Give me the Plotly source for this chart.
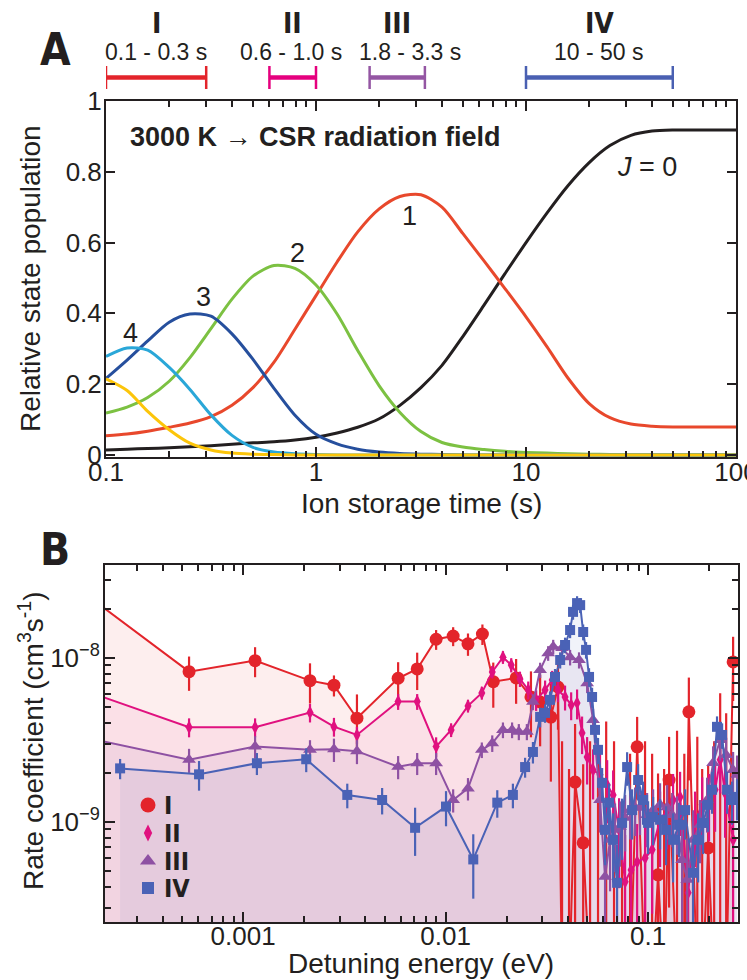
import math
import plotly.graph_objects as go

# ---------------------------------------------------------------------------
# Panel A: relative rotational state populations versus ion storage time
# (sampled every tenth of a decade)
# ---------------------------------------------------------------------------
storage_time_s = [0.1, 0.126, 0.158, 0.2, 0.251, 0.316, 0.398, 0.501, 0.631, 0.794,
                  1.0, 1.26, 1.58, 2.0, 2.51, 3.16, 3.98, 5.01, 6.31, 7.94,
                  10, 12.6, 15.8, 20, 25.1, 31.6, 39.8, 50.1, 63.1, 79.4, 100]
pop_J0 = [0.014, 0.016, 0.018, 0.020, 0.023, 0.026, 0.030, 0.034, 0.037, 0.042,
          0.050, 0.062, 0.078, 0.102, 0.140, 0.190, 0.253, 0.335, 0.423, 0.512,
          0.600, 0.684, 0.760, 0.826, 0.874, 0.903, 0.915, 0.918, 0.918, 0.918, 0.918]
pop_J1 = [0.054, 0.059, 0.067, 0.078, 0.090, 0.108, 0.140, 0.190, 0.262, 0.355,
          0.450, 0.545, 0.630, 0.695, 0.730, 0.735, 0.700, 0.625, 0.548, 0.470,
          0.390, 0.305, 0.218, 0.145, 0.105, 0.087, 0.081, 0.079, 0.079, 0.079, 0.079]
pop_J2 = [0.118, 0.135, 0.162, 0.208, 0.275, 0.357, 0.440, 0.505, 0.535, 0.527,
          0.480, 0.398, 0.295, 0.195, 0.120, 0.066, 0.035, 0.022, 0.015, 0.010,
          0.007, 0.005, 0.003, 0.002, 0.001, 0.0, 0.0, 0.0, 0.0, 0.0, 0.0]
pop_J3 = [0.216, 0.268, 0.322, 0.375, 0.398, 0.392, 0.342, 0.270, 0.188, 0.112,
          0.058, 0.031, 0.016, 0.008, 0.004, 0.002, 0.001, 0.0, 0.0, 0.0,
          0.0, 0.0, 0.0, 0.0, 0.0, 0.0, 0.0, 0.0, 0.0, 0.0, 0.0]
pop_J4 = [0.278, 0.302, 0.296, 0.247, 0.185, 0.113, 0.055, 0.021, 0.008, 0.003,
          0.001, 0.0, 0.0, 0.0, 0.0, 0.0, 0.0, 0.0, 0.0, 0.0,
          0.0, 0.0, 0.0, 0.0, 0.0, 0.0, 0.0, 0.0, 0.0, 0.0, 0.0]
pop_J5 = [0.215, 0.182, 0.123, 0.071, 0.033, 0.014, 0.005, 0.002, 0.001, 0.0,
          0.0, 0.0, 0.0, 0.0, 0.0, 0.0, 0.0, 0.0, 0.0, 0.0,
          0.0, 0.0, 0.0, 0.0, 0.0, 0.0, 0.0, 0.0, 0.0, 0.0, 0.0]
population_curves = [pop_J0, pop_J1, pop_J2, pop_J3, pop_J4, pop_J5]
population_colors = ["#231f20", "#e8482c", "#7cc142", "#264f9d", "#2aa7d8", "#fcc50a"]

# storage-time windows used for the rate measurements
window_labels = ["I", "II", "III", "IV"]
window_text = ["0.1 - 0.3 s", "0.6 - 1.0 s", "1.8 - 3.3 s", "10 - 50 s"]
window_text_shift = [0, -2, 13, 0]
window_start_s = [0.1, 0.6, 1.8, 10]
window_end_s = [0.3, 1.0, 3.3, 50]
window_colors = ["#e3242b", "#e5007e", "#9456a3", "#4a60b2"]

# ---------------------------------------------------------------------------
# Panel B: rate coefficients (in units of 1e-9 cm^3 s^-1) vs detuning energy
# ---------------------------------------------------------------------------
RATE_UNIT = 1e-9

energy_I = [1.9e-4, 5.41e-4, 1.146e-3, 2.14e-3, 2.81e-3, 3.65e-3, 5.83e-3, 7.24e-3,
            8.98e-3, 1.09e-2, 1.29e-2, 1.52e-2, 1.72e-2, 2.23e-2, 2.64e-2, 2.93e-2,
            3.31e-2, 3.59e-2, 3.76e-2, 4.07e-2, 4.36e-2, 4.78e-2, 5.17e-2, 5.66e-2,
            6.21e-2, 6.79e-2, 7.44e-2, 8.15e-2, 8.83e-2, 9.66e-2, 0.1047, 0.112, 0.120,
            0.127, 0.139, 0.151, 0.159, 0.175, 0.185, 0.198, 0.212, 0.227, 0.243, 0.263]
rate_I = [21.7, 8.25, 9.63, 7.27, 6.82, 4.29, 7.52, 8.57, 13.0, 13.6, 12.2, 14.0, 7.17,
          7.55, 5.78, 5.39, 4.36, 6.65, 0.1, 0.1, 1.75, 0.745, 0.1, 0.1, 0.1, 0.1, 0.1,
          0.1, 2.87, 0.1, 0.1, 0.475, 0.1, 1.80, 0.1, 0.1, 4.69, 0.1, 0.1, 0.694, 0.1,
          0.1, 0.1, 9.46]
err_I = [0, 1.95, 2.0, 2.0, 1.0, 1.7, 1.9, 2.2, 1.8, 1.8, 1.9, 2.0, 2.2, 2.3, 2.5, 2.5,
         2.6, 3.0, 3.0, 2.0, 2.2, 1.5, 3.0, 2.5, 4.0, 3.0, 1.2, 2.5, 1.5, 3.0, 2.5, 1.5,
         2.0, 1.5, 3.5, 2.5, 2.9, 3.2, 2.0, 1.5, 3.0, 6.0, 4.5, 4.0]

energy_II = [1.9e-4, 5.41e-4, 1.146e-3, 2.14e-3, 2.81e-3, 3.65e-3, 5.83e-3, 7.24e-3,
             8.98e-3, 1.065e-2, 1.29e-2, 1.51e-2, 1.70e-2, 1.92e-2, 2.11e-2, 2.33e-2,
             2.56e-2, 2.80e-2, 3.10e-2, 3.36e-2, 3.59e-2, 3.89e-2, 4.17e-2, 4.46e-2,
             4.72e-2, 5.00e-2, 5.35e-2, 5.79e-2, 6.28e-2, 6.72e-2, 7.19e-2, 7.70e-2,
             8.24e-2, 8.83e-2, 9.67e-2, 0.1047, 0.1146, 0.1241, 0.1329, 0.1439, 0.1577,
             0.1706, 0.185, 0.200, 0.2143, 0.227, 0.240, 0.263]
rate_II = [5.95, 3.78, 3.78, 4.64, 3.81, 3.39, 5.42, 5.42, 2.88, 3.64, 5.10, 6.12, 8.22,
           10.1, 9.06, 7.45, 6.38, 5.55, 6.38, 7.34, 6.38, 5.78, 5.17, 5.32, 3.49, 2.49,
           2.07, 1.94, 1.68, 1.46, 0.894, 0.431, 0.509, 0.570, 0.603, 0.675, 1.03, 1.18,
           1.36, 1.42, 0.369, 1.03, 1.27, 1.36, 1.57, 2.39, 1.50, 0.777]
err_II = [0, 0.5, 0.5, 0.6, 0.5, 0.4, 0.6, 0.6, 0.4, 0.35, 0.45, 0.55, 0.7, 0.9, 0.9,
          0.8, 0.8, 0.8, 0.9, 1.0, 1.0, 1.0, 1.0, 1.1, 0.9, 0.8, 0.7, 0.7, 0.7, 0.6, 0.5,
          0.4, 0.4, 0.4, 0.4, 0.4, 0.5, 0.5, 0.6, 0.6, 0.4, 0.5, 0.6, 0.6, 0.7, 0.9, 0.7,
          0.6]

energy_III = [1.9e-4, 5.41e-4, 1.146e-3, 2.14e-3, 2.81e-3, 3.65e-3, 5.83e-3, 7.24e-3,
              8.98e-3, 1.09e-2, 1.29e-2, 1.51e-2, 1.70e-2, 1.92e-2, 2.13e-2, 2.30e-2,
              2.52e-2, 2.70e-2, 2.93e-2, 3.21e-2, 3.40e-2, 3.76e-2, 4.12e-2, 4.56e-2,
              5.00e-2, 5.35e-2, 5.79e-2, 6.13e-2, 6.49e-2, 6.87e-2, 7.27e-2, 7.70e-2,
              8.15e-2, 8.63e-2, 9.13e-2, 9.89e-2, 0.1059, 0.1146, 0.1241, 0.1315, 0.139,
              0.1472, 0.156, 0.1667, 0.1807, 0.1956, 0.2094, 0.227, 0.243, 0.263, 0.275]
rate_III = [3.16, 2.39, 2.88, 2.75, 2.77, 2.70, 2.17, 2.28, 2.28, 1.36, 1.60, 2.75, 3.02,
            3.64, 3.64, 3.55, 3.55, 5.4, 8.45, 10.7, 11.7, 11.5, 10.1, 9.72, 7.0, 4.19,
            1.36, 0.462, 0.777, 0.894, 0.933, 1.06, 1.18, 1.22, 1.23, 1.10, 1.18, 1.27,
            1.23, 1.10, 1.03, 0.586, 0.443, 0.777, 0.959, 1.36, 2.29, 3.16, 2.56, 2.07,
            1.94]
err_III = [0, 0.4, 0.45, 0.4, 0.45, 0.45, 0.35, 0.35, 0.35, 0.22, 0.25, 0.3, 0.35, 0.4,
           0.4, 0.4, 0.4, 0.6, 0.9, 1.1, 1.2, 1.2, 1.1, 1.1, 0.9, 0.7, 0.5, 0.4, 0.4,
           0.4, 0.4, 0.4, 0.4, 0.4, 0.4, 0.4, 0.4, 0.45, 0.45, 0.4, 0.4, 0.35, 0.35, 0.4,
           0.4, 0.5, 0.6, 0.8, 0.7, 0.6, 0.6]

energy_IV = [2.47e-4, 6.06e-4, 1.17e-3, 2.05e-3, 3.27e-3, 4.86e-3, 7.07e-3, 1.005e-2,
             1.37e-2, 1.80e-2, 2.15e-2, 2.47e-2, 2.70e-2, 2.93e-2, 3.10e-2, 3.28e-2,
             3.47e-2, 3.68e-2, 3.89e-2, 4.12e-2, 4.26e-2, 4.46e-2, 4.62e-2, 4.78e-2,
             4.94e-2, 5.11e-2, 5.29e-2, 5.47e-2, 5.66e-2, 5.93e-2, 6.13e-2, 6.42e-2,
             6.72e-2, 7.03e-2, 7.44e-2, 7.88e-2, 8.34e-2, 8.93e-2, 9.45e-2, 0.100,
             0.1059, 0.1146, 0.1227, 0.1329, 0.1422, 0.1523, 0.1667, 0.1766, 0.187,
             0.198, 0.207, 0.219, 0.232, 0.2455, 0.260, 0.275]
rate_IV = [2.12, 1.95, 2.28, 2.41, 1.46, 1.36, 0.92, 1.24, 0.59, 1.31, 1.46, 2.16, 2.67,
           4.37, 4.62, 5.55, 7.66, 9.72, 12.0, 14.8, 19.1, 21.6, 21.0, 14.4, 11.2, 7.66,
           5.78, 3.64, 2.75, 1.73, 0.894, 1.31, 0.777, 0.425, 0.986, 2.16, 1.18, 1.80,
           1.36, 0.986, 1.07, 1.03, 0.894, 0.777, 0.959, 1.18, 0.489, 0.777, 0.986, 1.27,
           1.57, 3.80, 3.39, 1.57, 1.36, 1.42]
err_IV = [0.3, 0.4, 0.35, 0.4, 0.25, 0.25, 0.3, 0.3, 0.25, 0.25, 0.25, 0.3, 0.4, 0.6,
          0.6, 0.7, 0.9, 1.1, 1.3, 1.6, 2.0, 2.2, 2.2, 1.6, 1.3, 1.0, 0.8, 0.6, 0.5, 0.4,
          0.35, 0.4, 0.35, 0.3, 0.4, 0.5, 0.4, 0.45, 0.4, 0.35, 0.35, 0.35, 0.35, 0.35,
          0.35, 0.4, 0.3, 0.35, 0.35, 0.4, 0.45, 0.6, 0.6, 0.45, 0.4, 0.4]

series_energy = [energy_I, energy_II, energy_III, energy_IV]
series_rate = [rate_I, rate_II, rate_III, rate_IV]
series_err = [err_I, err_II, err_III, err_IV]
series_colors = ["#e3242b", "#e0117f", "#8e51a3", "#4a62b6"]
series_fill = ["rgba(228,40,40,0.08)", "rgba(224,0,120,0.06)",
               "rgba(142,80,163,0.08)", "rgba(74,98,182,0.08)"]
series_symbols = ["circle", "diamond-tall", "triangle-up", "square"]
series_sizes = [13, 10, 12, 10]

# ---------------------------------------------------------------------------
W, H = 747, 980
FONT = "Liberation Sans, Arial, Helvetica, sans-serif"
NARROW_BOLD = "Liberation Sans Narrow, Arial Narrow, DejaVu Sans Condensed, Liberation Sans, sans-serif"
INK = "#231f20"

# plot-area boxes in pixels (left, top, right, bottom)
A_BOX = (106, 101, 736, 457)
B_BOX = (105, 565, 738, 922)


def xdom(box):
    return [box[0] / W, box[2] / W]


def ydom(box):
    return [1 - box[3] / H, 1 - box[1] / H]


def px(x):
    return x / W


def py(y):
    return 1 - y / H


def label(x, y, text, size, family=FONT, **kw):
    d = dict(x=px(x), y=py(y), xref="paper", yref="paper", text=text,
             showarrow=False, xanchor="center", yanchor="middle",
             font=dict(family=family, size=size, color=INK))
    d.update(kw)
    return d


fig = go.Figure()

# --- Panel A curves
for pop, col in zip(population_curves, population_colors):
    fig.add_trace(go.Scatter(
        x=storage_time_s, y=pop, mode="lines", xaxis="x", yaxis="y",
        line=dict(color=col, width=3, shape="spline", smoothing=0.8),
        hoverinfo="skip"))

# --- time-window bars above panel A (x3 shares panel A's log time scale)
for t0, t1, col in zip(window_start_s, window_end_s, window_colors):
    fig.add_trace(go.Scatter(
        x=[t0, t1], y=[77.5, 77.5], mode="lines", xaxis="x3", yaxis="y3",
        line=dict(color=col, width=4.5), hoverinfo="skip"))
    fig.add_trace(go.Scatter(
        x=[t0, t0, None, t1, t1], y=[66, 89, None, 66, 89], mode="lines",
        xaxis="x3", yaxis="y3", line=dict(color=col, width=2.5), hoverinfo="skip"))

# --- Panel B shaded areas beneath each series
for e, r, fc in zip(series_energy, series_rate, series_fill):
    fig.add_trace(go.Scatter(
        x=e, y=[v * RATE_UNIT for v in r], mode="none", fill="tozeroy",
        fillcolor=fc, xaxis="x2", yaxis="y2", hoverinfo="skip"))

# --- Panel B data with error bars
for e, r, s, col, sym, size in zip(series_energy, series_rate, series_err,
                                    series_colors, series_symbols, series_sizes):
    fig.add_trace(go.Scatter(
        x=e, y=[v * RATE_UNIT for v in r], mode="lines+markers",
        xaxis="x2", yaxis="y2",
        line=dict(color=col, width=2),
        marker=dict(symbol=sym, size=size, color=col, line=dict(width=0)),
        error_y=dict(type="data", array=[v * RATE_UNIT for v in s], symmetric=True,
                     color=col, thickness=2.2, width=0),
        hoverinfo="skip"))

# --- Panel B key (x4/y4 overlay the panel in pixel-like units)
legend_x = 148
legend_rows = [805, 833, 861, 888]
for row, col, sym, size in zip(legend_rows, series_colors, series_symbols, series_sizes):
    fig.add_trace(go.Scatter(
        x=[legend_x], y=[row], mode="markers", xaxis="x4", yaxis="y4",
        marker=dict(symbol=sym, size=size + 2, color=col, line=dict(width=0)),
        hoverinfo="skip"))

annotations = []

# panel letters
annotations.append(label(55, 50, "<b>A</b>", 44, NARROW_BOLD))
annotations.append(label(55, 549, "<b>B</b>", 44, NARROW_BOLD))

# window labels
for lab, txt, shift, t0, t1 in zip(window_labels, window_text, window_text_shift,
                                   window_start_s, window_end_s):
    xm = (math.log10(t0) + math.log10(t1)) / 2
    annotations.append(dict(x=xm, y=23, xref="x3", yref="y3", text="<b>%s</b>" % lab,
                            showarrow=False, xanchor="center", yanchor="middle",
                            font=dict(family=NARROW_BOLD, size=28, color=INK)))
    annotations.append(dict(x=xm, y=52, xref="x3", yref="y3", text=txt, showarrow=False,
                            xanchor="center", yanchor="middle", xshift=shift,
                            font=dict(family=FONT, size=23, color=INK)))

# panel A text
annotations.append(label(128, 137, "<b>3000 K \u2192 CSR radiation field</b>", 27,
                         xanchor="left"))
for lab, (cx, cy) in zip(["4", "3", "2", "1", "<i>J</i> = 0"],
                         [(130, 333), (203, 297), (297, 253), (409, 216), (647, 167)]):
    annotations.append(label(cx, cy, lab, 27))

# axis titles
annotations.append(label(30, 279, "Relative state population", 28, textangle=-90))
annotations.append(label(421, 503, "Ion storage time (s)", 28))
annotations.append(label(31, 741, "Rate coefficient (cm<sup>3</sup>s<sup>-1</sup>)", 28,
                         textangle=-90))
annotations.append(label(421, 963, "Detuning energy (eV)", 28))

# key labels
for lab, row in zip(window_labels, legend_rows):
    annotations.append(dict(x=162, y=row, xref="x4", yref="y4", xanchor="left",
                            yanchor="middle", text="<b>%s</b>" % lab, showarrow=False,
                            font=dict(family=NARROW_BOLD, size=25, color=INK)))

# minor tick positions (digits 2..9 within each decade)
minor_A = [m * 10.0 ** d for d in range(-1, 2) for m in range(2, 10)]
minor_Bx = [m * 10.0 ** d for d in range(-4, 0) for m in range(2, 10)]
minor_By = [m * 10.0 ** d for d in range(-10, -7) for m in range(2, 10)]

axis_common = dict(showline=True, linecolor=INK, linewidth=2, mirror="ticks",
                   ticks="inside", tickcolor=INK, tickwidth=2, showgrid=False,
                   zeroline=False, automargin=False, ticklabeloverflow="allow",
                   tickfont=dict(family=FONT, size=26, color=INK))
hidden = dict(visible=False, automargin=False, fixedrange=True, showgrid=False,
              zeroline=False)

fig.update_layout(
    width=W, height=H, margin=dict(l=0, r=0, t=0, b=0, pad=0, autoexpand=False),
    paper_bgcolor="white", plot_bgcolor="white", showlegend=False,
    font=dict(family=FONT, color=INK),
    xaxis=dict(domain=xdom(A_BOX), anchor="y", type="log", range=[-1, 2],
               tickvals=[0.1, 1, 10, 100], ticktext=["0.1", "1", "10", "100"],
               ticklen=10, ticklabelstandoff=-9,
               minor=dict(tickvals=minor_A, ticks="inside", ticklen=6, tickwidth=1.5,
                          tickcolor=INK),
               **axis_common),
    yaxis=dict(domain=ydom(A_BOX), anchor="x", range=[-0.006, 1.0], tick0=0, dtick=0.2,
               ticklen=9, ticklabelstandoff=-3, **axis_common),
    xaxis2=dict(domain=xdom(B_BOX), anchor="y2", type="log",
                range=[math.log10(2.08e-4), math.log10(0.278)],
                tickvals=[0.001, 0.01, 0.1], ticktext=["0.001", "0.01", "0.1"],
                ticklen=10, ticklabelstandoff=-10,
                minor=dict(tickvals=minor_Bx, ticks="inside", ticklen=6, tickwidth=1.5,
                           tickcolor=INK),
                **axis_common),
    yaxis2=dict(domain=ydom(B_BOX), anchor="x2", type="log",
                range=[math.log10(2.45e-10), math.log10(3.69e-8)],
                tickvals=[1e-9, 1e-8],
                ticktext=["10<sup>\u22129</sup>", "10<sup>\u22128</sup>"],
                ticklen=10, ticklabelstandoff=-2,
                minor=dict(tickvals=minor_By, ticks="inside", ticklen=6, tickwidth=1.5,
                           tickcolor=INK),
                **axis_common),
    xaxis3=dict(domain=xdom(A_BOX), anchor="y3", type="log", range=[-1, 2], **hidden),
    yaxis3=dict(domain=[1 - 100 / H, 1], anchor="x3", range=[100, 0], **hidden),
    xaxis4=dict(overlaying="x2", anchor="y4", range=[B_BOX[0], B_BOX[2]], **hidden),
    yaxis4=dict(overlaying="y2", anchor="x4", range=[B_BOX[3], B_BOX[1]], **hidden),
    annotations=annotations,
)

fig.write_html("out.html")
